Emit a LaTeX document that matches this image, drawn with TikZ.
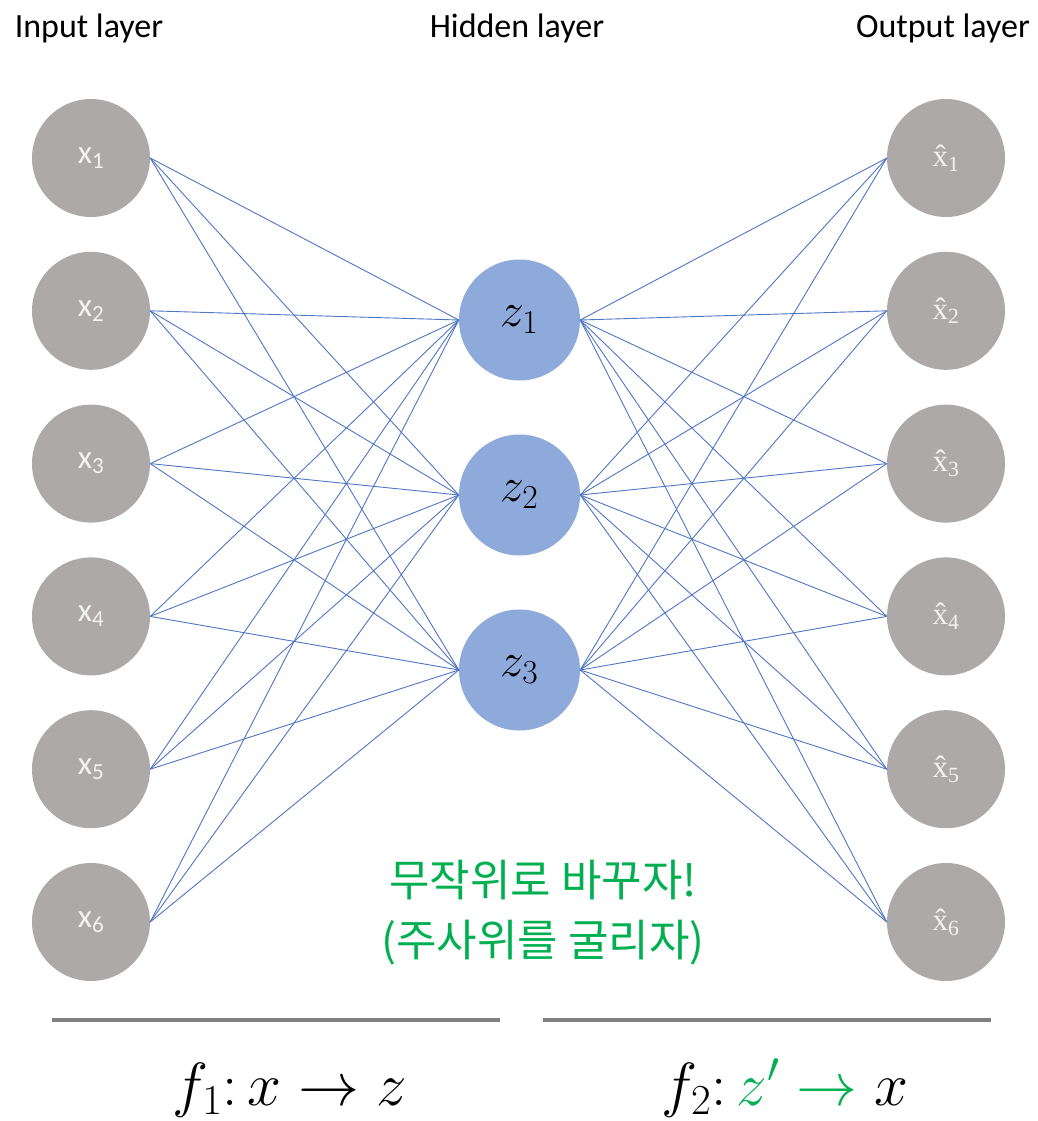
\RequirePackage{fix-cm}
\documentclass[tikz,border=0pt]{standalone}
\usepackage{amsmath}
\usepackage{fontspec}
\setmainfont{Carlito}
\newfontfamily\krfont{Noto Sans CJK KR}
\newfontfamily\hatfont{Liberation Serif}
\definecolor{ngray}{HTML}{ADA9A9}
\definecolor{nblue}{HTML}{8EAADB}
\definecolor{nline}{HTML}{4F75C4}
\definecolor{ngreen}{HTML}{00B050}
\definecolor{sepgray}{HTML}{808080}
\definecolor{ltext}{HTML}{F2F2F2}
\begin{document}
\begin{tikzpicture}[x=1pt,y=-1pt,
  inp/.style={circle,fill=ngray,minimum size=118pt,inner sep=0pt,text=ltext,font=\fontsize{33}{36}\selectfont},
  hid/.style={circle,fill=nblue,minimum size=121pt,inner sep=0pt,font=\fontsize{48}{52}\selectfont},
  conn/.style={draw=nline,line width=0.9pt},
  ttl/.style={font=\fontsize{34}{38}\selectfont,anchor=base},
  sepline/.style={draw=sepgray,line width=4pt},
  formula/.style={font=\fontsize{61}{66}\selectfont,anchor=base}]
\useasboundingbox (0,0) rectangle (1037,1121);
\node[ttl] (t1) at (89,38) {Input layer};
\node[ttl] (t2) at (517,38) {Hidden layer};
\node[ttl] (t3) at (943,38) {Output layer};
\foreach \i/\y in {1/158,2/310.8,3/463.6,4/616.4,5/769.2,6/922}{
  \node[inp] (x\i) at (91,\y) {x\textsubscript{\i}};
  \node[inp,font=\hatfont\fontsize{31}{36}\selectfont] (y\i) at (946,\y) {x̂\textsubscript{\i}};
}
\foreach \j/\y in {1/320,2/495,3/670}{
  \node[hid] (z\j) at (519.5,\y) {$z_{\j}$};
}
\foreach \i in {1,...,6}{
  \foreach \j in {1,2,3}{
    \draw[conn] (x\i.east) -- (z\j.west);
    \draw[conn] (z\j.east) -- (y\i.west);
  }
}
\node[font=\krfont\fontsize{44}{60}\selectfont,text=ngreen,align=center] (note) at (543,913) {무작위로 바꾸자!\\(주사위를 굴리자)};
\coordinate (l1) at (52,1020);
\coordinate (l2) at (500,1020);
\coordinate (r1) at (543,1020);
\coordinate (r2) at (991,1020);
\draw[sepline] (l1) -- (l2);
\draw[sepline] (r1) -- (r2);
\node[formula] (f1) at (290,1105) {$f_1{:}\,x \rightarrow z$};
\node[formula] (f2) at (785,1105) {$f_2{:}\,\textcolor{ngreen}{z'\rightarrow}\; x$};
\end{tikzpicture}
\end{document}
